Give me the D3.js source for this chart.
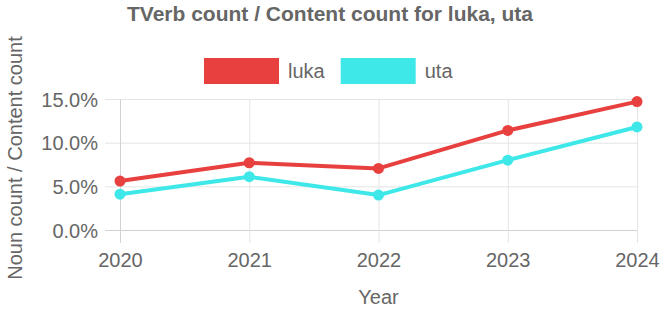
<!DOCTYPE html>
<html>
<head>
<meta charset="utf-8">
<script src="https://cdn.jsdelivr.net/npm/d3@7"></script>
<style>
  body { margin: 0; background: #fff; }
  svg text { font-family: "Liberation Sans", Arial, Helvetica, sans-serif; fill: #666; }
</style>
</head>
<body>
<div id="chart"></div>
<script>
const years = ["2020", "2021", "2022", "2023", "2024"];
const lukaValues = [5.6, 7.7, 7.05, 11.4, 14.7];
const utaValues = [4.1, 6.1, 4.0, 8.0, 11.8];
const yTicks = [0, 5, 10, 15];
const seriesNames = ["luka", "uta"];
const seriesColors = ["#e83f3f", "#3fe8e8"];

const drawChart = () => {
  const width = 664;
  const height = 311;
  const left = 120, right = 637, top = 99, bottom = 230;

  const series = [
    { name: seriesNames[0], color: seriesColors[0], values: lukaValues },
    { name: seriesNames[1], color: seriesColors[1], values: utaValues }
  ];

  const x = d3.scalePoint()
      .domain(years)
      .range([left, right]);

  const y = d3.scaleLinear()
      .domain([0, 15])
      .range([bottom, top]);

  const svg = d3.select("#chart")
      .append("svg")
      .attr("width", width)
      .attr("height", height);

  // horizontal grid + y labels
  const yAxis = svg.append("g")
      .attr("transform", `translate(${right},0)`)
      .call(d3.axisLeft(y)
        .tickValues(yTicks)
        .tickSize(right - left + 15)
        .tickPadding(7)
        .tickFormat(d => d.toFixed(1) + "%"));
  yAxis.select(".domain").remove();
  yAxis.selectAll(".tick line")
      .attr("stroke", d => d === 0 ? "#d2d2d2" : "#e4e4e4");
  yAxis.selectAll(".tick text")
      .attr("font-size", 20)
      .attr("dy", "0.35em");

  // vertical grid + x labels
  const xAxis = svg.append("g")
      .attr("transform", `translate(0,${top})`)
      .call(d3.axisBottom(x)
        .tickSize(bottom - top + 13)
        .tickPadding(10));
  xAxis.select(".domain").remove();
  xAxis.selectAll(".tick line")
      .attr("stroke", d => d === years[0] ? "#d2d2d2" : "#e4e4e4");
  xAxis.selectAll(".tick text")
      .attr("font-size", 20)
      .attr("dy", "0.71em");

  const line = d3.line()
      .x((d, i) => x(years[i]))
      .y(d => y(d));

  series.forEach(s => {
    svg.append("path")
        .datum(s.values)
        .attr("fill", "none")
        .attr("stroke", s.color)
        .attr("stroke-width", 4)
        .attr("stroke-linejoin", "round")
        .attr("d", line);

    svg.selectAll(null)
        .data(s.values)
        .enter()
        .append("circle")
        .attr("cx", (d, i) => x(years[i]))
        .attr("cy", d => y(d))
        .attr("r", 5.5)
        .attr("fill", s.color);
  });

  // title
  svg.append("text")
      .attr("x", 330)
      .attr("y", 21)
      .attr("text-anchor", "middle")
      .attr("font-size", 21)
      .attr("font-weight", "bold")
      .text("TVerb count / Content count for luka, uta");

  // legend
  const legend = svg.append("g");
  let lx = 204;
  series.forEach(s => {
    legend.append("rect")
        .attr("x", lx)
        .attr("y", 58)
        .attr("width", 75)
        .attr("height", 26)
        .attr("fill", s.color);
    const t = legend.append("text")
        .attr("x", lx + 84)
        .attr("y", 78)
        .attr("font-size", 20)
        .text(s.name);
    lx += 84 + t.node().getComputedTextLength() + 16;
  });

  // axis titles
  svg.append("text")
      .attr("x", (left + right) / 2)
      .attr("y", 304)
      .attr("text-anchor", "middle")
      .attr("font-size", 20)
      .text("Year");

  svg.append("text")
      .attr("transform", "translate(22,158) rotate(-90)")
      .attr("text-anchor", "middle")
      .attr("font-size", 20)
      .text("Noun count / Content count");
};

window.onload = drawChart;
</script>
</body>
</html>
